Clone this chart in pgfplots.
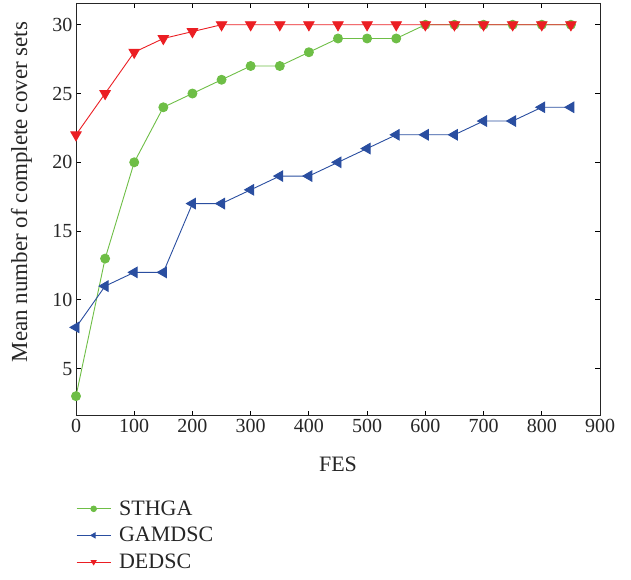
\documentclass[border=0pt]{standalone}
\usepackage{pgfplots}
\pgfplotsset{compat=1.18}
\usepackage{fontspec}
\setmainfont{Liberation Serif}
\definecolor{cgreen}{RGB}{110,190,70}
\definecolor{cblue}{RGB}{42,78,160}
\definecolor{cred}{RGB}{235,30,35}
\begin{document}
\begin{tikzpicture}[x=1pt,y=1pt]
\path (0,0) rectangle (631,580);
\begin{axis}[
  at={(76pt,164.3pt)}, anchor=south west,
  scale only axis, width=524pt, height=412.7pt,
  xmin=0, xmax=900, ymin=1.58, ymax=31.58,
  xtick={0,100,...,900}, ytick={5,10,...,30},
  tick align=inside, major tick length=5pt,
  tick style={black, line width=0.8pt},
  axis line style={line width=0.8pt, black!85},
  /pgf/number format/assume math mode=true,
  ticklabel style={font=\fontsize{20}{22}\selectfont, text=black!85},
  xlabel={FES}, ylabel={Mean number of complete cover sets},
  xlabel style={font=\fontsize{22}{24}\selectfont, text=black!85, at={(axis description cs:0.5,-0.119)}, anchor=center},
  ylabel style={font=\fontsize{23}{26}\selectfont, text=black!85, at={(axis description cs:-0.104,0.542)}, anchor=center},
  legend style={at={(0.0,-0.196)}, anchor=north west, draw=none, fill=none,
    font=\fontsize{22}{25}\selectfont, row sep=6.5pt, text=black!85,
    inner xsep=0pt, nodes={inner xsep=8pt}},
  legend cell align=left,
  legend image code/.code={
    \draw[#1, mark size=2.8pt, mark repeat=2, mark phase=2] plot coordinates {(0pt,0pt) (17pt,0pt) (34pt,0pt)};},
]
\addplot[cgreen, line width=0.9pt, mark=*, mark size=4.5pt, mark options={fill=cgreen, draw=cgreen}] coordinates {
(0,3) (50,13) (100,20) (150,24) (200,25) (250,26) (300,27) (350,27) (400,28) (450,29) (500,29) (550,29) (600,30) (650,30) (700,30) (750,30) (800,30) (850,30)};
\addlegendentry{STHGA}
\addplot[cblue, line width=0.9pt, mark=triangle*, mark size=6pt, mark options={rotate=90, fill=cblue, draw=cblue}] coordinates {
(0,8) (50,11) (100,12) (150,12) (200,17) (250,17) (300,18) (350,19) (400,19) (450,20) (500,21) (550,22) (600,22) (650,22) (700,23) (750,23) (800,24) (850,24)};
\addlegendentry{GAMDSC}
\addplot[cred, line width=0.9pt, mark=triangle*, mark size=6pt, mark options={rotate=180, fill=cred, draw=cred}] coordinates {
(0,22) (50,25) (100,28) (150,29) (200,29.5) (250,30) (300,30) (350,30) (400,30) (450,30) (500,30) (550,30) (600,30) (650,30) (700,30) (750,30) (800,30) (850,30)};
\addlegendentry{DEDSC}
\end{axis}
\end{tikzpicture}
\end{document}
